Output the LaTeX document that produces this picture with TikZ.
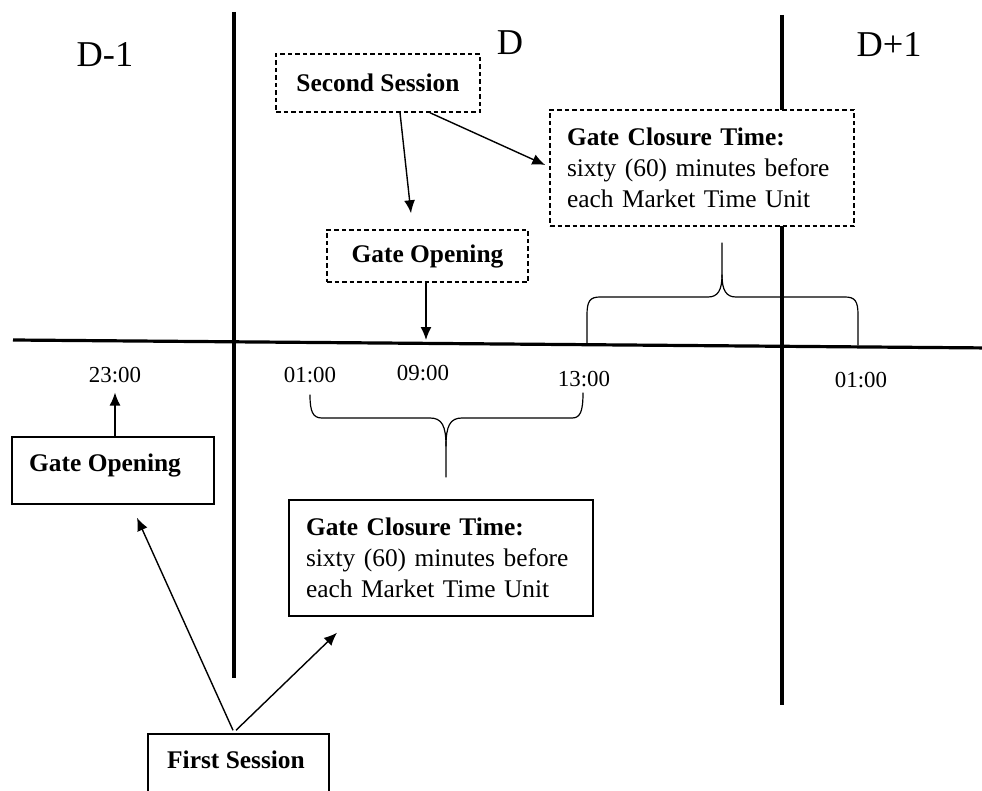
\documentclass[tikz,border=0pt]{standalone}
\usepackage{fontspec}
\setmainfont{Liberation Serif}
\usetikzlibrary{arrows.meta,calc}
\begin{document}
\begin{tikzpicture}[x=1bp,y=-1bp,
  divider/.style={line width=3.2bp},
  boxline/.style={draw, line width=1.5bp, fill=white, inner sep=0pt},
  solidbox/.style={boxline},
  dashbox/.style={boxline, dash pattern=on 4.5bp off 3bp},
  conn/.style={line width=1.4bp, -{Latex[length=13bp,width=11bp]}},
  bracestroke/.style={line width=1.2bp, line join=round, line cap=round},
  boxtext/.style={font=\fontsize{25.5}{31}\selectfont},
  boldtext/.style={font=\fontsize{25.5}{31}\selectfont\bfseries},
  timelabel/.style={font=\fontsize{23}{27}\selectfont, inner sep=0pt},
  daylabel/.style={font=\fontsize{36.5}{40}\selectfont, inner sep=0pt},
]
\useasboundingbox (0,0) rectangle (982,791);

% day dividers and the time axis
\draw[divider] (234,12) -- (234,678);
\draw[divider] (782,15) -- (782,705);
\draw[divider, -{Latex[length=5bp,width=4bp]}] (13,340) -- (992,348);

% day headings
\node[daylabel, anchor=base] (dm1) at (105,67) {D-1};
\node[daylabel, anchor=base] (d0)  at (510,55) {D};
\node[daylabel, anchor=base] (dp1) at (889,57) {D+1};

% hours on the axis
\node[timelabel, anchor=base] (t23)  at (115,382) {23:00};
\node[timelabel, anchor=base] (t01)  at (310,382) {01:00};
\node[timelabel, anchor=base] (t09)  at (423,380) {09:00};
\node[timelabel, anchor=base] (t13)  at (584,386) {13:00};
\node[timelabel, anchor=base] (t01b) at (861,387) {01:00};
\coordinate (axis09) at (426,340);

% second session (dashed)
\node[dashbox, boldtext, minimum width=204bp, minimum height=58bp] (ss) at (378,83) {Second Session};
\node[dashbox, boxtext, minimum width=304bp, minimum height=116bp, text width=270bp, align=left]
  (gct) at (702,168) {\textbf{Gate Closure Time:}\\sixty (60) minutes before\\each Market Time Unit};
\node[dashbox, boldtext, minimum width=201bp, minimum height=52bp] (goT) at (427.5,256) {Gate Opening};

% first session (solid)
\node[solidbox, minimum width=202bp, minimum height=67bp] (goL) at (113,470.5) {};
\node[boldtext, inner sep=0pt, anchor=base west] (goLtext) at (29,471) {Gate Opening};
\node[solidbox, boxtext, minimum width=304bp, minimum height=116bp, text width=270bp, align=left]
  (gcb) at (441,558) {\textbf{Gate Closure Time:}\\sixty (60) minutes before\\each Market Time Unit};
\node[solidbox, minimum width=181bp, minimum height=66bp] (fs) at (238.5,767) {};
\node[boldtext, inner sep=0pt, anchor=base] (fstext) at (236,768) {First Session};

% connectors
\draw[conn] ($(ss.south)+(22,0)$) -- ($(goT.north)+(-16.5,-16)$);
\draw[conn] ($(ss.south)+(52,0)$) -- ($(gct.west)+(-4,-3)$);
\draw[conn] ($(goT.south)+(-1.5,0)$) -- (axis09);
\draw[conn] ($(goL.north)+(2,0)$) -- ($(t23.south)+(0,10)$);
\draw[conn] ($(fs.north)+(-5.5,-3)$) -- ($(goL.south)+(24,13)$);
\draw[conn] ($(fs.north)+(-2.5,-3)$) -- ($(gcb.south)+(-104,16)$);

% brace under 01:00 -- 13:00
\draw[bracestroke] (310,395) .. controls (310,412) and (313,418) .. (322,418)
  -- (430,418) .. controls (442,418) and (446,426) .. (446,446) -- (446,477);
\draw[bracestroke] (446,446) .. controls (446,426) and (450,418) .. (462,418)
  -- (572,418) .. controls (580,418) and (583,412) .. (583,393);

% brace over 13:00 -- 01:00 (next day)
\draw[bracestroke] (587,344) -- (587,315) .. controls (587,301) and (590,297) .. (600,297)
  -- (708,297) .. controls (718,297) and (722,290) .. (722,275) -- (722,243);
\draw[bracestroke] (722,275) .. controls (722,290) and (726,297) .. (736,297)
  -- (845,297) .. controls (855,297) and (858,301) .. (858,315) -- (858,345);
\end{tikzpicture}
\end{document}
